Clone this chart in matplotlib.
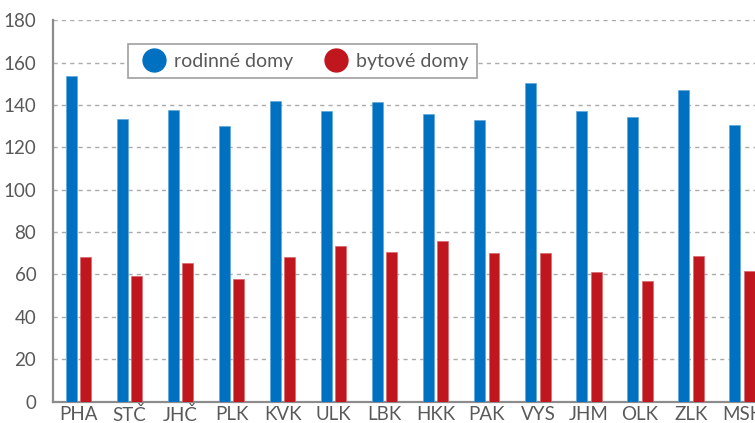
import matplotlib
matplotlib.use("Agg")
import matplotlib.pyplot as plt
from matplotlib.lines import Line2D
import numpy as np

regions = ["PHA", "STČ", "JHČ", "PLK", "KVK", "ULK", "LBK", "HKK", "PAK",
           "VYS", "JHM", "OLK", "ZLK", "MSK"]
rodinne_domy = [153.6, 133.5, 137.5, 129.9, 142.0, 137.2, 141.3, 135.6, 133.0,
                150.4, 137.0, 134.2, 147.1, 130.7]
bytove_domy = [68.4, 59.2, 65.2, 58.0, 68.2, 73.4, 70.6, 75.9, 70.2,
               70.1, 61.0, 56.9, 68.7, 61.6]
series_labels = ["rodinné domy", "bytové domy"]
y_ticks = [0, 20, 40, 60, 80, 100, 120, 140, 160, 180]

BLUE = "#0070C0"
RED = "#C0161E"
TEXT = "#595959"

plt.rcParams["font.family"] = ["Lato", "DejaVu Sans"]

fig = plt.figure(figsize=(7.55, 4.23), dpi=100)
ax = fig.add_axes([53 / 755, 21.5 / 423, 714.6 / 755, 381.2 / 423])

x = np.arange(len(regions))
w = 0.215
off = 0.14
ax.bar(x - off, rodinne_domy, width=w, color=BLUE, zorder=3,
       edgecolor="#5FA8DC", linewidth=0.5)
ax.bar(x + off, bytove_domy, width=w, color=RED, zorder=3,
       edgecolor="#D9676D", linewidth=0.5)

ax.set_xlim(-0.5, len(regions) - 0.5)
ax.set_ylim(0, 180)
ax.set_yticks(y_ticks)
ax.set_xticks(x)
ax.set_xticklabels(regions)
ax.tick_params(axis="both", length=0, labelsize=13.5, colors=TEXT)
ax.tick_params(axis="x", pad=3)
ax.tick_params(axis="y", pad=12)

ax.yaxis.grid(True, color="#ABABAB", linestyle=(0, (3, 3)), linewidth=1, zorder=0)
ax.set_axisbelow(True)
for s in ("top", "right"):
    ax.spines[s].set_visible(False)
for s in ("left", "bottom"):
    ax.spines[s].set_color("#8C8C8C")
    ax.spines[s].set_linewidth(1.6)

handles = [
    Line2D([], [], marker="o", linestyle="none", markersize=16.5,
           markerfacecolor=BLUE, markeredgecolor=BLUE),
    Line2D([], [], marker="o", linestyle="none", markersize=16.5,
           markerfacecolor=RED, markeredgecolor=RED),
]
leg = fig.legend(handles, series_labels, loc="upper left",
                 bbox_to_anchor=(128 / 755, 1 - 44 / 423),
                 bbox_transform=fig.transFigure, borderaxespad=0,
                 ncol=2, frameon=True,
                 fancybox=False, edgecolor="#A0A0A0", facecolor="white",
                 framealpha=1, fontsize=14, handletextpad=0.15,
                 columnspacing=1.3, borderpad=0.45, handlelength=1.78)
leg.get_frame().set_linewidth(1.2)
for t in leg.get_texts():
    t.set_color(TEXT)

fig.savefig("out.png", dpi=100)
